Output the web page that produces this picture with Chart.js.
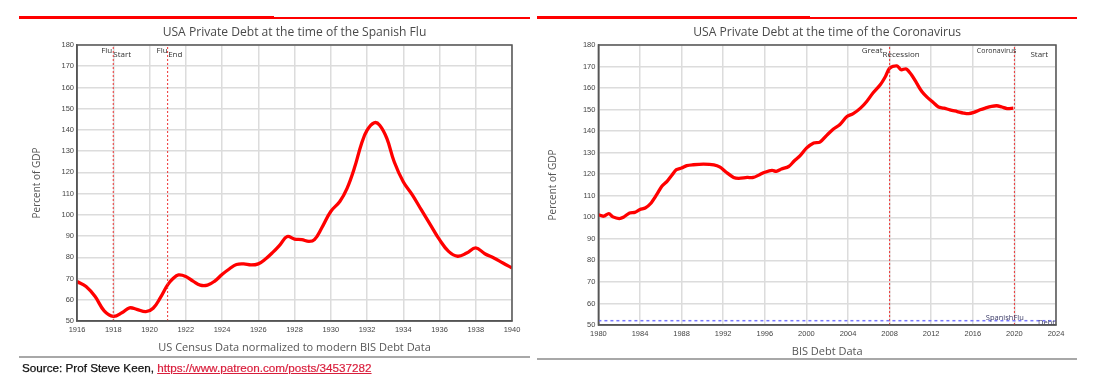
<!DOCTYPE html>
<html><head><meta charset="utf-8">
<script src="https://cdn.jsdelivr.net/npm/chart.js@4.4.1/dist/chart.umd.min.js"></script>
<style>
html,body{margin:0;padding:0;background:#fff}
body{width:1104px;height:388px;position:relative;overflow:hidden;font-family:"Liberation Sans",Arial,sans-serif}
canvas{position:absolute;top:0}
#c1{left:0}
#c2{left:540px}
.rule{position:absolute}
#src{position:absolute;left:22px;top:361px;font-size:11.7px;color:#111;white-space:nowrap;-webkit-text-stroke:0.25px #111}
#src a{color:#d91e3c;text-decoration:underline;-webkit-text-stroke:0.2px #d91e3c}
</style>
</head><body>
<div class="rule" style="left:19px;top:16px;width:255px;height:3px;background:#f00"></div>
<div class="rule" style="left:274px;top:17px;width:256px;height:2px;background:#f00"></div>
<div class="rule" style="left:537px;top:16px;width:273px;height:3px;background:#f00"></div>
<div class="rule" style="left:810px;top:17px;width:267px;height:2px;background:#f00"></div>
<div class="rule" style="left:19px;top:356px;width:511px;height:2px;background:#a8a8a8"></div>
<div class="rule" style="left:537px;top:358px;width:540px;height:2px;background:#a8a8a8"></div>
<canvas id="c1" width="540" height="388" style="width:540px;height:388px"></canvas>
<canvas id="c2" width="564" height="388" style="width:564px;height:388px"></canvas>
<div id="src">Source: Prof Steve Keen, <a href="https://www.patreon.com/posts/34537282">https://www.patreon.com/posts/34537282</a></div>
<script>
// ---- Data ----
const spanishFluYears = [1916,1916.5,1917,1917.5,1918,1918.5,1918.9,1919.3,1919.8,1920.2,1920.6,1921,1921.3,1921.6,1922,1922.4,1922.8,1923.2,1923.6,1924,1924.4,1924.8,1925.2,1925.6,1926,1926.4,1926.8,1927.2,1927.6,1928,1928.4,1928.8,1929.1,1929.5,1930,1930.5,1930.9,1931.3,1931.7,1932,1932.4,1932.7,1933.1,1933.5,1934,1934.5,1935,1935.5,1936,1936.5,1937,1937.5,1938,1938.5,1939,1939.5,1940];
const spanishFluDebt = [68.6,66.2,61.5,54.8,52.2,54,56.2,55.5,54.4,56,61,67,70,71.7,71,68.8,66.9,66.9,68.8,71.9,74.5,76.6,76.9,76.4,76.9,79.2,82.3,85.9,89.8,88.6,88.3,87.5,88.3,93.8,101.6,106.3,112.5,121.9,133.6,139.8,143.4,142.2,135.9,125,115.6,109.4,102.3,95.3,88.3,82.8,80.5,82,84.4,81.7,79.7,77.3,75];

const coronaYears = [1980,1980.5,1981,1981.4,1982,1982.4,1983,1983.5,1984,1984.5,1985,1985.6,1986.1,1986.6,1987.1,1987.5,1988,1988.5,1989.1,1990.1,1991.1,1991.7,1992.3,1993,1993.5,1994.3,1994.9,1995.5,1996,1996.7,1997.1,1997.6,1998.3,1998.8,1999.4,2000,2000.7,2001.3,2002,2002.6,2003.2,2003.9,2004.5,2005.2,2005.8,2006.4,2007.1,2007.6,2008,2008.7,2009.1,2009.6,2010.1,2010.6,2011.1,2011.6,2012.2,2012.7,2013.2,2013.8,2014.5,2015.1,2015.6,2016.1,2016.7,2017.2,2017.8,2018.3,2018.8,2019.3,2019.9];
const coronaDebt = [101.2,100.5,101.7,100.2,99.4,100,102,102.3,103.6,104.3,106.3,110.5,114.4,116.7,119.8,122.1,122.9,124,124.4,124.7,124.4,123.3,120.9,118.5,118.1,118.5,118.5,119.8,120.9,121.8,121.3,122.4,123.6,126,128.6,132.1,134.5,134.9,138.3,141,143,146.8,148.1,150.7,153.8,157.7,161.5,165.4,169.2,170.3,168.5,168.9,166.2,162.3,158.4,155.8,153.3,151.2,150.7,149.9,149.1,148.4,148.1,148.7,149.9,150.7,151.5,151.8,151.2,150.5,150.7];

const spanishFluEvents = [1918, 1921];
const spanishFluEventLabels = [["Flu","Start"],["Flu","End"]];
const coronaEvents = [2008, 2020];
const coronaEventLabels = [["Great","Recession"],["Coronavirus","Start"]];
const spanishFluLowDebt = 52;

const yMin = 50, yMax = 180, yStep = 10;

// ---- Helpers ----
const pts = (xs, ys) => xs.map((x, i) => ({x, y: ys[i]}));
const vline = (x) => [{x, y: yMin}, {x, y: yMax}];

const boxPlugin = {
  id: 'plotBox',
  afterDraw(chart) {
    const {ctx, chartArea: a} = chart;
    ctx.save();
    ctx.strokeStyle = '#555';
    ctx.lineWidth = 1.5;
    ctx.strokeRect(a.left, a.top, a.right - a.left, a.bottom - a.top);
    ctx.restore();
  }
};

const eventLabelPlugin = {
  id: 'eventLabels',
  afterDatasetsDraw(chart, args, opts) {
    const {ctx, chartArea: a} = chart;
    const x = chart.scales.x, y = chart.scales.y;
    ctx.save();
    ctx.fillStyle = '#333';
    ctx.textBaseline = 'middle';
    (opts.items || []).forEach(it => {
      const px = x.getPixelForValue(it.at);
      ctx.font = (it.size || 8) + 'px "Open Sans"';
      ctx.textAlign = 'right';
      ctx.fillText(it.a, px + it.dxA, a.top + 6);
      ctx.font = '8px "Open Sans"';
      ctx.textAlign = 'left';
      ctx.fillText(it.b, px + it.dxB, a.top + 9.5);
    });
    if (opts.low) {
      const py = y.getPixelForValue(opts.low.value);
      ctx.fillStyle = '#3a3a66';
      ctx.font = '7.5px "Open Sans"';
      ctx.textAlign = 'right';
      ctx.fillText('SpanishFlu', x.getPixelForValue(opts.low.at), py - 2.5);
      ctx.fillText('Debt', a.right - 1, py + 2.5);
    }
    ctx.restore();
  }
};

function makeOptions(cfg) {
  return {
    responsive: false,
    animation: false,
    layout: {padding: {left: 0, top: 0, bottom: 0, right: cfg.padRight}},
    plugins: {
      legend: {display: false},
      tooltip: {enabled: false},
      title: {
        display: true, text: cfg.title, fullSize: false,
        color: '#4a4a4a', font: {family: '"Open Sans"', size: 12.1, weight: 'normal', lineHeight: 1.2},
        padding: {top: 25, bottom: 45 - 25 - 12.1 * 1.2}
      },
      eventLabels: cfg.labels
    },
    scales: {
      x: {
        type: 'linear', min: cfg.xMin, max: cfg.xMax,
        ticks: {stepSize: cfg.xStep, callback: v => String(v), color: '#444',
                font: {family: '"Liberation Sans"', size: 7.5}, padding: 4, maxRotation: 0, autoSkip: false},
        grid: {color: '#dcdcdc', lineWidth: 1.5, drawTicks: false},
        border: {color: '#555', width: 1.5},
        title: {display: true, text: cfg.xTitle, color: '#555',
                font: {family: '"Open Sans"', size: 11, lineHeight: 1.2},
                padding: {top: 0, bottom: cfg.xTitlePad}},
        afterFit(s) { s.height = cfg.xHeight; s.paddingLeft = 0; s.paddingRight = 0; }
      },
      y: {
        type: 'linear', min: yMin, max: yMax,
        ticks: {stepSize: yStep, color: '#444', font: {family: '"Liberation Sans"', size: 7.5}, padding: 3},
        grid: {color: '#dcdcdc', lineWidth: 1.5, drawTicks: false},
        border: {color: '#555', width: 1.5},
        title: {display: true, text: 'Percent of GDP', color: '#555',
                font: {family: '"Open Sans"', size: 10, lineHeight: 1.2},
                padding: {top: cfg.yTitlePad, bottom: 0}},
        afterFit(s) { s.width = cfg.yWidth; s.paddingTop = 0; s.paddingBottom = 0; }
      }
    }
  };
}

const seriesStyle = {borderColor: '#ff0000', borderWidth: 3.3, pointRadius: 0, tension: 0.4, fill: false};
const dashStyle = {borderColor: '#ee3333', borderWidth: 1, borderDash: [2, 2], pointRadius: 0, fill: false};

// ---- Left chart ----
new Chart(document.getElementById('c1'), {
  type: 'line',
  data: {
    datasets: [
      ...spanishFluEvents.map(e => ({...dashStyle, data: vline(e)})),
      {...seriesStyle, data: pts(spanishFluYears, spanishFluDebt)}
    ]
  },
  options: makeOptions({
    title: 'USA Private Debt at the time of the Spanish Flu',
    xTitle: 'US Census Data normalized to modern BIS Debt Data',
    xMin: 1916, xMax: 1940, xStep: 2,
    padRight: 28, yWidth: 77, xHeight: 67, yTitlePad: 31, xTitlePad: 33.4,
    labels: {items: [
      {at: spanishFluEvents[0], a: spanishFluEventLabels[0][0], b: spanishFluEventLabels[0][1], dxA: -1, dxB: 0},
      {at: spanishFluEvents[1], a: spanishFluEventLabels[1][0], b: spanishFluEventLabels[1][1], dxA: 0, dxB: 0.5}
    ]}
  }),
  plugins: [boxPlugin, eventLabelPlugin]
});

// ---- Right chart ----
new Chart(document.getElementById('c2'), {
  type: 'line',
  data: {
    datasets: [
      {borderColor: '#7777ff', borderWidth: 1.5, borderDash: [3, 3], pointRadius: 0, fill: false,
       data: [{x: 1980, y: spanishFluLowDebt}, {x: 2024, y: spanishFluLowDebt}]},
      ...coronaEvents.map(e => ({...dashStyle, data: vline(e)})),
      {...seriesStyle, tension: 0.3, data: pts(coronaYears, coronaDebt)}
    ]
  },
  options: makeOptions({
    title: 'USA Private Debt at the time of the Coronavirus',
    xTitle: 'BIS Debt Data',
    xMin: 1980, xMax: 2024, xStep: 4,
    padRight: 48, yWidth: 58.4, xHeight: 63, yTitlePad: 7, xTitlePad: 29.4,
    labels: {items: [
      {at: coronaEvents[0], a: coronaEventLabels[0][0], b: coronaEventLabels[0][1], dxA: -7, dxB: -7},
      {at: coronaEvents[1], a: coronaEventLabels[1][0], b: coronaEventLabels[1][1], dxA: 2, dxB: 16, size: 7}
    ], low: {value: spanishFluLowDebt, at: 2020.9}}
  }),
  plugins: [boxPlugin, eventLabelPlugin]
});
</script>
</body></html>
